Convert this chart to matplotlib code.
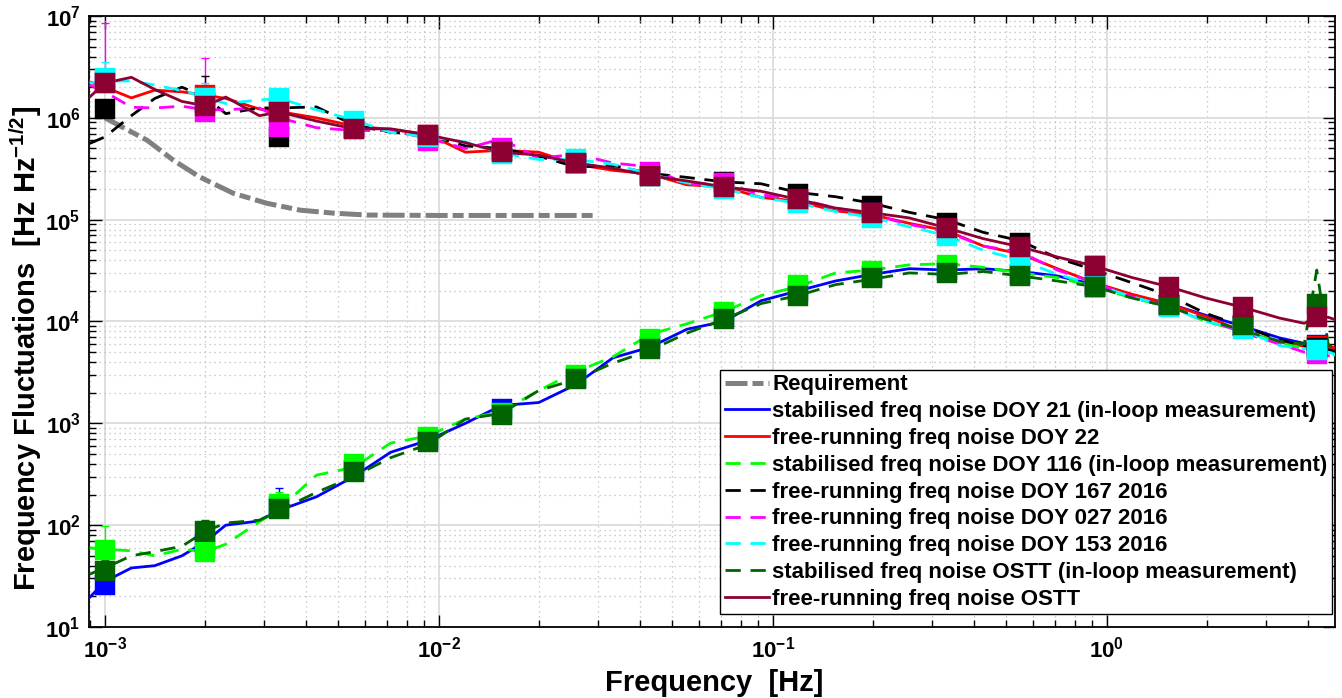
import math

import matplotlib
matplotlib.use("Agg")
import matplotlib.pyplot as plt
from matplotlib.ticker import LogLocator, FuncFormatter, NullFormatter

# ---------------------------------------------------------------- data
LINE_FREQ = [9e-4, 1e-3, 1.2e-3, 1.41e-3, 1.7e-3, 2e-3, 2.3e-3, 2.9e-3, 3.33e-3,
             4.3e-3, 5.56e-3, 7.17e-3, 9.26e-3, 1.2e-2, 1.54e-2, 1.99e-2, 2.57e-2,
             3.32e-2, 4.29e-2, 5.53e-2, 7.14e-2, 9.22e-2, 0.119, 0.154, 0.198,
             0.256, 0.331, 0.427, 0.551, 0.711, 0.919, 1.19, 1.53, 1.98, 2.55,
             3.29, 3.9, 4.25, 4.6, 5.0]
MARK_FREQ = [1e-3, 2e-3, 3.33e-3, 5.56e-3, 9.26e-3, 1.54e-2, 2.57e-2, 4.29e-2,
             7.14e-2, 0.119, 0.198, 0.331, 0.551, 0.919, 1.53, 2.55, 4.25]

REQ_FREQ = [1e-3, 1.34e-3, 1.6e-3, 1.92e-3, 2.42e-3, 3.05e-3, 3.84e-3, 4.82e-3,
            6.09e-3, 1e-2, 2.97e-2]
REQ_VAL = [1.0e6, 6.0e5, 3.85e5, 2.63e5, 1.82e5, 1.45e5, 1.24e5, 1.16e5,
           1.11e5, 1.1e5, 1.1e5]

DOY21_LINE = [19.5, 28, 38, 40, 50, 69, 100, 110, 140, 190, 300, 520, 680, 1.0e3,
              1.5e3, 1.6e3, 2.4e3, 4.4e3, 5.6e3, 8.4e3, 1.0e4, 1.6e4, 2.0e4, 2.5e4,
              2.9e4, 3.3e4, 3.2e4, 3.3e4, 3.1e4, 2.8e4, 2.3e4, 1.8e4, 1.5e4, 1.15e4,
              9.0e3, 6.9e3, 6.1e3, 5.9e3, 5.7e3, 5.4e3]
DOY21_MARK = [26, 65, 150, 350, 680, 1.38e3, 2.8e3, 5.8e3, 1.1e4, 2.0e4, 2.8e4,
              3.2e4, 2.9e4, 2.2e4, 1.45e4, 9.0e3, 5.9e3]

DOY22_LINE = [2.25e6, 2.0e6, 1.57e6, 1.87e6, 1.8e6, 1.67e6, 1.55e6, 1.22e6, 1.15e6,
              1.0e6, 8.3e5, 7.7e5, 6.9e5, 4.6e5, 4.8e5, 4.6e5, 3.5e5, 3.05e5, 2.8e5,
              2.2e5, 2.1e5, 1.65e5, 1.52e5, 1.22e5, 1.12e5, 9.2e4, 7.8e4, 5.5e4,
              4.6e4, 3.3e4, 2.4e4, 1.85e4, 1.5e4, 1.12e4, 8.0e3, 6.3e3, 5.7e3,
              5.6e3, 5.6e3, 5.5e3]
DOY22_MARK = [2.3e6, 1.67e6, 1.2e6, 8.2e5, 6.8e5, 4.7e5, 3.6e5, 2.75e5, 2.1e5,
              1.55e5, 1.15e5, 7.9e4, 5.0e4, 2.3e4, 1.45e4, 9.0e3, 5.7e3]

DOY116_LINE = [60, 58, 56, 50, 58, 55, 65, 108, 145, 310, 370, 640, 750, 1.1e3,
               1.3e3, 2.1e3, 3.2e3, 4.5e3, 7.5e3, 9.5e3, 1.25e4, 1.8e4, 2.2e4, 3.0e4,
               3.2e4, 3.6e4, 3.7e4, 3.4e4, 3.0e4, 2.7e4, 2.2e4, 1.7e4, 1.4e4, 1.0e4,
               8.0e3, 6.3e3, 5.4e3, 5.2e3, 4.9e3, 4.5e3]
DOY116_MARK = [57, 54, 163, 400, 740, 1.25e3, 3.0e3, 6.7e3, 1.24e4, 2.3e4, 3.1e4,
               3.55e4, 2.9e4, 2.2e4, 1.45e4, 9.0e3, 5.2e3]

DOY167_LINE = [5.6e5, 6.5e5, 1.05e6, 1.55e6, 2.0e6, 1.6e6, 1.1e6, 1.25e6, 1.25e6,
               1.28e6, 8.5e5, 7.2e5, 6.8e5, 5.3e5, 5.0e5, 4.2e5, 3.3e5, 3.4e5, 2.85e5,
               2.6e5, 2.35e5, 2.25e5, 1.85e5, 1.68e5, 1.45e5, 1.18e5, 1.0e5, 7.5e4,
               6.2e4, 4.2e4, 3.2e4, 2.4e4, 1.8e4, 1.2e4, 9.0e3, 6.6e3, 5.8e3,
               5.6e3, 5.3e3, 5.0e3]
DOY167_MARK = [1.22e6, 1.4e6, 6.5e5, 8.0e5, 6.5e5, 4.7e5, 3.6e5, 2.7e5, 2.35e5,
               1.78e5, 1.35e5, 9.3e4, 5.9e4, 3.5e4, 1.45e4, 9.0e3, 5.5e3]

DOY027_LINE = [2.1e6, 1.8e6, 1.27e6, 1.25e6, 1.3e6, 1.2e6, 1.2e6, 1.25e6, 1.0e6,
               8.0e5, 7.5e5, 7.5e5, 6.3e5, 5.0e5, 6.2e5, 4.0e5, 4.4e5, 3.6e5, 3.3e5,
               2.2e5, 2.3e5, 1.75e5, 1.6e5, 1.3e5, 1.12e5, 9.0e4, 7.6e4, 5.5e4,
               4.8e4, 3.2e4, 2.4e4, 1.75e4, 1.4e4, 1.05e4, 7.8e3, 6.0e3, 5.0e3,
               4.8e3, 4.6e3, 4.5e3]
DOY027_MARK = [2.2e6, 1.14e6, 8.1e5, 7.7e5, 5.9e5, 5.0e5, 3.6e5, 2.95e5, 2.3e5,
               1.55e5, 1.15e5, 7.9e4, 5.0e4, 2.3e4, 1.45e4, 9.0e3, 4.8e3]

DOY153_LINE = [2.2e6, 2.3e6, 2.3e6, 2.1e6, 1.85e6, 1.6e6, 1.38e6, 1.5e6, 1.55e6,
               1.2e6, 9.5e5, 7.2e5, 6.5e5, 5.8e5, 4.5e5, 3.9e5, 3.9e5, 3.5e5, 2.8e5,
               2.3e5, 2.0e5, 1.65e5, 1.45e5, 1.2e5, 1.05e5, 8.5e4, 7.0e4, 5.0e4,
               4.0e4, 2.9e4, 2.3e4, 1.75e4, 1.4e4, 1.0e4, 8.3e3, 5.8e3, 5.4e3,
               5.2e3, 5.0e3, 4.6e3]
DOY153_MARK = [2.46e6, 1.57e6, 1.57e6, 9.4e5, 6.5e5, 4.4e5, 3.9e5, 2.7e5, 2.0e5,
               1.45e5, 1.04e5, 6.9e4, 4.3e4, 2.6e4, 1.4e4, 8.5e3, 5.3e3]

OSTT_STAB_LINE = [33, 38, 50, 55, 62, 87, 105, 112, 140, 210, 300, 460, 620, 1.1e3,
                  1.25e3, 2.1e3, 2.7e3, 3.9e3, 5.2e3, 7.7e3, 1.05e4, 1.5e4, 1.8e4,
                  2.3e4, 2.6e4, 3.0e4, 2.9e4, 3.1e4, 2.8e4, 2.5e4, 2.2e4, 1.7e4,
                  1.4e4, 1.05e4, 8.2e3, 6.4e3, 6.0e3, 3.2e4, 6.0e3, 4.5e3]
OSTT_STAB_MARK = [35.6, 87, 145, 330, 650, 1.2e3, 2.7e3, 5.4e3, 1.05e4, 1.8e4,
                  2.7e4, 3.0e4, 2.8e4, 2.2e4, 1.45e4, 9.2e3, 1.48e4]

OSTT_FREE_LINE = [1.6e6, 2.2e6, 2.5e6, 1.9e6, 1.45e6, 1.31e6, 1.6e6, 1.05e6, 1.14e6,
                  9.3e5, 7.8e5, 7.8e5, 6.8e5, 5.7e5, 4.6e5, 4.3e5, 3.6e5, 3.2e5,
                  2.7e5, 2.4e5, 2.1e5, 1.9e5, 1.58e5, 1.3e5, 1.17e5, 1.04e5, 8.3e4,
                  6.5e4, 5.4e4, 4.3e4, 3.5e4, 2.7e4, 2.2e4, 1.7e4, 1.38e4, 1.08e4,
                  9.6e3, 1.1e4, 1.1e4, 1.0e4]
OSTT_FREE_MARK = [2.2e6, 1.31e6, 1.14e6, 7.8e5, 6.8e5, 4.6e5, 3.6e5, 2.7e5, 2.1e5,
                  1.58e5, 1.17e5, 8.3e4, 5.4e4, 3.5e4, 2.2e4, 1.38e4, 1.1e4]

# upper error bars visible above the low-frequency markers
ERR_SERIES = ["doy027", "doy153", "doy027", "doy167", "doy153",
              "doy116", "ostt_stab", "ostt_stab", "doy21", "doy116"]
ERR_INDEX = [0, 0, 1, 1, 1, 0, 0, 1, 2, 2]
ERR_TOP = [8.5e6, 3.5e6, 3.9e6, 2.6e6, 2.2e6, 98, 46, 112, 230, 210]

# ---------------------------------------------------------------- style
BLUE, RED, LIME, BLACK = "#0000ff", "#ff0000", "#00ff00", "#000000"
MAGENTA, CYAN, DKGREEN, MAROON = "#ff00ff", "#00ffff", "#006400", "#8c0033"
GREY = "#808080"
DASH = (0, (5.5, 3.5))

SERIES = {
    "doy21": ("stabilised freq noise DOY 21 (in-loop measurement)",
              DOY21_LINE, DOY21_MARK, BLUE, "-"),
    "doy22": ("free-running freq noise DOY 22", DOY22_LINE, DOY22_MARK, RED, "-"),
    "doy116": ("stabilised freq noise DOY 116 (in-loop measurement)",
               DOY116_LINE, DOY116_MARK, LIME, DASH),
    "doy167": ("free-running freq noise DOY 167 2016",
               DOY167_LINE, DOY167_MARK, BLACK, DASH),
    "doy027": ("free-running freq noise DOY 027 2016",
               DOY027_LINE, DOY027_MARK, MAGENTA, DASH),
    "doy153": ("free-running freq noise DOY 153 2016",
               DOY153_LINE, DOY153_MARK, CYAN, DASH),
    "ostt_stab": ("stabilised freq noise OSTT (in-loop measurement)",
                  OSTT_STAB_LINE, OSTT_STAB_MARK, DKGREEN, DASH),
    "ostt_free": ("free-running freq noise OSTT",
                  OSTT_FREE_LINE, OSTT_FREE_MARK, MAROON, "-"),
}

plt.rcParams["font.family"] = ["Liberation Sans", "DejaVu Sans"]
plt.rcParams["font.weight"] = "bold"
plt.rcParams["mathtext.fontset"] = "custom"
plt.rcParams["mathtext.rm"] = "Liberation Sans:bold"
plt.rcParams["mathtext.bf"] = "Liberation Sans:bold"
plt.rcParams["mathtext.it"] = "Liberation Sans:bold"

fig = plt.figure(figsize=(13.42, 6.98), dpi=100)
ax = fig.add_axes([89 / 1342, 1 - 627 / 698, (1335 - 89) / 1342, (627 - 16) / 698])

ax.plot(REQ_FREQ, REQ_VAL, color=GREY, linewidth=3.6,
        linestyle=(0, (4.4, 1.0, 2.2, 1.0)), label="Requirement", zorder=2)

for key, (label, line, mark, color, ls) in SERIES.items():
    ax.plot(LINE_FREQ, line, color=color, linestyle=ls, linewidth=2.0,
            label=label, zorder=3)

for key, idx, top in zip(ERR_SERIES, ERR_INDEX, ERR_TOP):
    color = SERIES[key][3]
    y = SERIES[key][2][idx]
    ax.errorbar([MARK_FREQ[idx]], [y], yerr=[[0], [top - y]], fmt="none",
                ecolor=color, elinewidth=1.0, capsize=2.6, capthick=1.0, zorder=4)

for key, (label, line, mark, color, ls) in SERIES.items():
    ax.plot(MARK_FREQ, mark, linestyle="none", marker="s", markersize=14,
            markerfacecolor=color, markeredgecolor=color, markeredgewidth=0.3,
            zorder=5)

ax.set_xscale("log")
ax.set_yscale("log")
ax.set_xlim(8.96e-4, 4.82)
ax.set_ylim(10, 1e7)

ax.xaxis.set_major_locator(LogLocator(base=10, numticks=20))
ax.yaxis.set_major_locator(LogLocator(base=10, numticks=20))
ax.xaxis.set_minor_locator(LogLocator(base=10, subs=range(2, 10), numticks=50))
ax.yaxis.set_minor_locator(LogLocator(base=10, subs=range(2, 10), numticks=50))
pow_fmt = FuncFormatter(lambda v, pos: r"$\mathbf{10^{%d}}$" % round(math.log10(v)))
ax.xaxis.set_major_formatter(pow_fmt)
ax.yaxis.set_major_formatter(pow_fmt)
ax.xaxis.set_minor_formatter(NullFormatter())
ax.yaxis.set_minor_formatter(NullFormatter())

ax.grid(True, which="major", color="#dcdcdc", linewidth=1.3, linestyle="-")
ax.grid(True, which="minor", color="#bdbdbd", linewidth=0.9, linestyle=(0, (1, 3)))
ax.set_axisbelow(True)

ax.tick_params(which="both", direction="in", top=True, right=True,
               labelsize=16, width=1.0)
ax.tick_params(axis="x", pad=7)
ax.tick_params(axis="y", pad=6)
ax.tick_params(which="major", length=9)
ax.tick_params(which="minor", length=5)
for side in ax.spines.values():
    side.set_linewidth(1.3)

ax.set_xlabel("Frequency  [Hz]", fontsize=21, fontweight="bold")
ax.set_ylabel(r"Frequency Fluctuations  [Hz Hz$^{\mathbf{-1/2}}$]",
              fontsize=21, fontweight="bold")
ax.xaxis.set_label_coords(0.502, -0.069)
ax.yaxis.set_label_coords(-0.036, 0.455)

leg = ax.legend(loc="upper left", bbox_to_anchor=(0.5065, 0.4206),
                borderaxespad=0, fontsize=16, handlelength=2.0,
                handletextpad=0.15, labelspacing=0.26, borderpad=0.2,
                frameon=True, fancybox=False, framealpha=1.0)
leg.get_frame().set_edgecolor("black")
leg.get_frame().set_linewidth(1.0)
for txt in leg.get_texts():
    txt.set_fontweight("bold")

fig.savefig("out.png", dpi=100, facecolor="white")
